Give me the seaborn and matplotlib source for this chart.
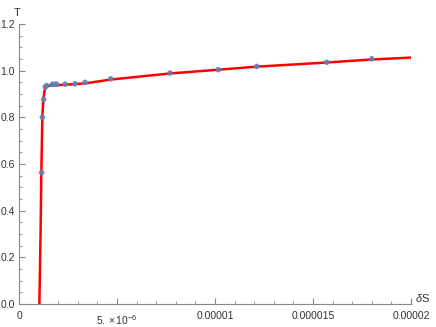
import numpy as np
import pandas as pd
import matplotlib
matplotlib.use("Agg")
import matplotlib.pyplot as plt
import seaborn as sns
from matplotlib.ticker import MultipleLocator, FixedLocator
from matplotlib.transforms import ScaledTranslation

# measured points (dS, T)
ds_points = [1.16e-6, 1.19e-6, 1.26e-6, 1.34e-6, 1.41e-6, 1.70e-6, 1.80e-6, 1.92e-6,
             2.36e-6, 2.86e-6, 3.37e-6, 4.68e-6, 7.70e-6, 10.17e-6, 12.13e-6,
             15.70e-6, 18.00e-6]
t_points = [0.563, 0.800, 0.877, 0.930, 0.936, 0.941, 0.942, 0.942,
            0.942, 0.944, 0.950, 0.965, 0.990, 1.004, 1.018, 1.036, 1.051]

# fitted curve
ds_fit = [1.04e-6, 1.10e-6, 1.14e-6, 1.19e-6, 1.24e-6, 1.30e-6, 1.36e-6, 1.45e-6,
          1.58e-6, 2.0e-6, 2.8e-6, 3.4e-6, 4.7e-6, 7.7e-6, 10.0e-6, 12.1e-6,
          15.7e-6, 18.0e-6, 20.0e-6]
t_fit = [0.0, 0.30, 0.56, 0.80, 0.875, 0.912, 0.928, 0.933,
         0.936, 0.938, 0.942, 0.946, 0.962, 0.988, 1.003, 1.017,
         1.035, 1.048, 1.056]

x_ticks = [0, 5e-6, 1e-5, 1.5e-5, 2e-5]
x_labels = ["0", r"$5.\times10^{-6}$", "0.00001", "0.000015", "0.00002"]
y_ticks = [0.0, 0.2, 0.4, 0.6, 0.8, 1.0, 1.2]
y_labels = ["0.0", "0.2", "0.4", "0.6", "0.8", "1.0", "1.2"]

sns.set_style("white")
plt.rcParams['font.family'] = ['Liberation Sans', 'DejaVu Sans']
plt.rcParams['mathtext.fontset'] = 'custom'
plt.rcParams['mathtext.rm'] = 'Liberation Sans'
plt.rcParams['mathtext.it'] = 'Liberation Sans:italic'

fig = plt.figure(figsize=(4.36, 3.27), dpi=100)
ax = fig.add_axes([19 / 436, 23 / 327, 392 / 436, 280 / 327])

df_fit = pd.DataFrame({"dS": ds_fit, "T": t_fit})
df_pts = pd.DataFrame({"dS": ds_points, "T": t_points})

sns.lineplot(data=df_fit, x="dS", y="T", ax=ax, color="#FF0000", linewidth=1.8,
             sort=False, estimator=None, zorder=2)
sns.scatterplot(data=df_pts, x="dS", y="T", ax=ax, color="#5E81B5", s=16,
                edgecolor="none", zorder=3, alpha=0.9)

ax.set_xlim(0, 2e-5)
ax.set_ylim(0, 1.2)
ax.set_xlabel("")
ax.set_ylabel("")

for side in ["top", "right"]:
    ax.spines[side].set_visible(False)
for side in ["left", "bottom"]:
    ax.spines[side].set_color("#888888")
    ax.spines[side].set_linewidth(0.8)

ax.xaxis.set_major_locator(FixedLocator(x_ticks))
ax.set_xticklabels(x_labels)
ax.xaxis.set_minor_locator(MultipleLocator(1e-6))
ax.yaxis.set_major_locator(FixedLocator(y_ticks))
ax.set_yticklabels(y_labels)
ax.yaxis.set_minor_locator(MultipleLocator(0.05))

ax.tick_params(axis="both", which="major", direction="in", length=4, width=0.8,
               color="#888888", labelsize=7.5, labelcolor="#333333", pad=3)
ax.tick_params(axis="both", which="minor", direction="in", length=2, width=0.6,
               color="#888888")
ax.tick_params(axis="x", which="major", bottom=True, pad=5)
ax.tick_params(axis="y", which="both", left=True)
ax.tick_params(axis="x", which="minor", bottom=True)

# the 5.x10^-6 label sits a bit lower, as in the original
lbl = ax.get_xticklabels()[1]
lbl.set_transform(lbl.get_transform() + ScaledTranslation(0, -1.5 / 72, fig.dpi_scale_trans))

ax.text(-0.005, 1.02, "T", transform=ax.transAxes, fontsize=8, color="#333333",
        ha="center", va="bottom")
ax.text(1.01, 0.0, r"$\mathit{\delta}$S", transform=ax.transAxes, fontsize=8,
        color="#333333", ha="left", va="bottom")

ax.grid(False)
fig.savefig("out.png", dpi=100)
